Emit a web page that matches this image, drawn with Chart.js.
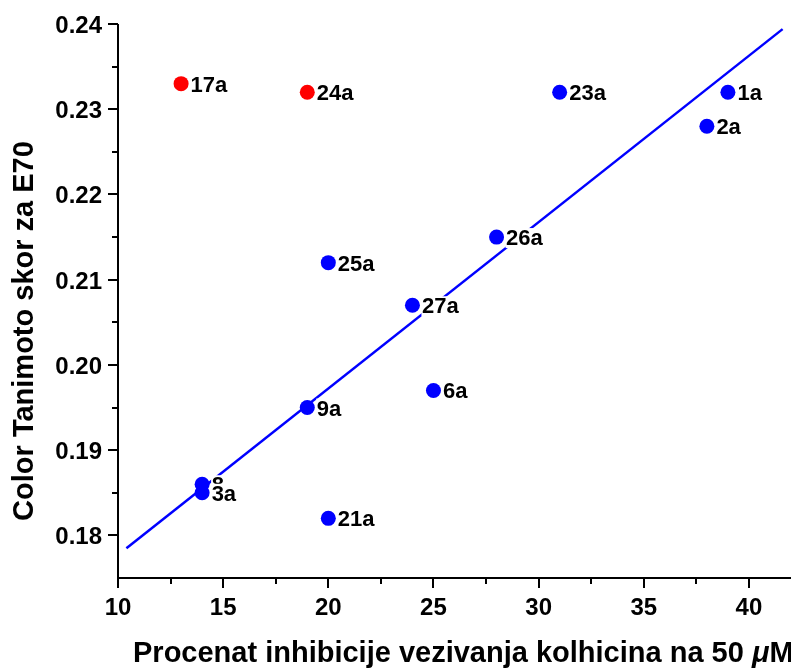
<!DOCTYPE html>
<html>
<head>
<meta charset="utf-8">
<script src="https://cdn.jsdelivr.net/npm/chart.js@4.4.1/dist/chart.umd.min.js"></script>
<style>
body { margin: 0; background: #fff; }
#wrap { width: 791px; height: 670px; }
</style>
</head>
<body>
<div id="wrap"><canvas id="chart" width="791" height="670"></canvas></div>
<script>
// podaci
var names = ['17a', '24a', '23a', '1a', '2a', '26a', '25a', '27a', '6a', '9a', '8', '3a', '21a'];
var inhibition = [13, 19, 31, 39, 38, 28, 20, 24, 25, 19, 14, 14, 20];
var tanimoto = [0.233, 0.232, 0.232, 0.232, 0.228, 0.215, 0.212, 0.207, 0.197, 0.195, 0.186, 0.185, 0.182];
var outliers = ['17a', '24a'];
var fitX = [10.4, 41.6];
var fitY = [0.1785, 0.2394];
var xTicks = [10, 15, 20, 25, 30, 35, 40];
var xMinor = [12.5, 17.5, 22.5, 27.5, 32.5, 37.5];
var yTicks = [0.18, 0.19, 0.20, 0.21, 0.22, 0.23, 0.24];
var yMinor = [0.185, 0.195, 0.205, 0.215, 0.225, 0.235];

var FONT = '"Liberation Sans", Arial, sans-serif';

var points = names.map(function (n, i) { return {x: inhibition[i], y: tanimoto[i]}; });
var colors = names.map(function (n) { return outliers.indexOf(n) >= 0 ? '#ff0000' : '#0000ff'; });
var fitLine = fitX.map(function (x, i) { return {x: x, y: fitY[i]}; });

// crta ose kao u Originu
var axesPlugin = {
    id: 'axes',
    afterDraw: function (chart) {
        var ctx = chart.ctx;
        var xs = chart.scales.x, ys = chart.scales.y;
        var left = xs.getPixelForValue(xs.min), right = xs.getPixelForValue(xs.max);
        var top = ys.getPixelForValue(ys.max), bottom = ys.getPixelForValue(ys.min);
        ctx.save();
        ctx.strokeStyle = '#000';
        ctx.fillStyle = '#000';
        ctx.lineWidth = 2;
        ctx.beginPath();
        ctx.moveTo(left, top);
        ctx.lineTo(left, bottom);
        ctx.lineTo(right, bottom);
        ctx.stroke();

        ctx.beginPath();
        xTicks.forEach(function (v) {
            var p = Math.round(xs.getPixelForValue(v));
            ctx.moveTo(p, bottom); ctx.lineTo(p, bottom + 10);
        });
        xMinor.forEach(function (v) {
            var p = Math.round(xs.getPixelForValue(v));
            ctx.moveTo(p, bottom); ctx.lineTo(p, bottom + 6);
        });
        yTicks.forEach(function (v) {
            var p = Math.round(ys.getPixelForValue(v));
            ctx.moveTo(left, p); ctx.lineTo(left - 10, p);
        });
        yMinor.forEach(function (v) {
            var p = Math.round(ys.getPixelForValue(v));
            ctx.moveTo(left, p); ctx.lineTo(left - 6, p);
        });
        ctx.stroke();

        ctx.font = 'bold 24px ' + FONT;
        ctx.textAlign = 'center';
        ctx.textBaseline = 'alphabetic';
        xTicks.forEach(function (v) {
            ctx.fillText(String(v), xs.getPixelForValue(v), bottom + 37);
        });
        ctx.textAlign = 'right';
        yTicks.forEach(function (v) {
            ctx.fillText(v.toFixed(2), left - 16, ys.getPixelForValue(v) + 9);
        });

        // naslovi osa
        ctx.font = 'bold 29px ' + FONT;
        ctx.textAlign = 'left';
        var t1 = 'Procenat inhibicije vezivanja kolhicina na 50 ';
        var tx = 133, ty = 662;
        ctx.fillText(t1, tx, ty);
        tx += ctx.measureText(t1).width;
        ctx.font = 'italic bold 29px ' + FONT;
        ctx.fillText('\u03bc', tx, ty);
        tx += ctx.measureText('\u03bc').width;
        ctx.font = 'bold 29px ' + FONT;
        ctx.fillText('M', tx, ty);

        ctx.translate(33, 331);
        ctx.rotate(-Math.PI / 2);
        ctx.textAlign = 'center';
        ctx.fillText('Color Tanimoto skor za E70', 0, 0);
        ctx.restore();
    }
};

// oznake jedinjenja sa belom pozadinom
var labelPlugin = {
    id: 'pointLabels',
    afterDatasetsDraw: function (chart) {
        var ctx = chart.ctx;
        var meta = chart.getDatasetMeta(0);
        ctx.save();
        ctx.font = 'bold 22px ' + FONT;
        ctx.textAlign = 'left';
        ctx.textBaseline = 'alphabetic';
        meta.data.forEach(function (el, i) {
            var w = ctx.measureText(names[i]).width;
            var x = el.x + 9, y = el.y + 8;
            ctx.fillStyle = '#fff';
            ctx.fillRect(x, y - 17, w + 1, 20);
            ctx.fillStyle = '#000';
            ctx.fillText(names[i], x + 0.5, y);
        });
        ctx.restore();
    }
};

new Chart(document.getElementById('chart'), {
    type: 'scatter',
    data: {
        datasets: [{
            data: points,
            backgroundColor: colors,
            borderColor: colors,
            pointRadius: 7.5,
            pointHoverRadius: 7.5,
            borderWidth: 0
        }, {
            type: 'line',
            data: fitLine,
            borderColor: '#0000ff',
            borderWidth: 2.5,
            pointRadius: 0,
            fill: false
        }]
    },
    options: {
        responsive: false,
        animation: false,
        events: [],
        layout: {autoPadding: false, padding: {left: 118, right: 0, top: 24, bottom: 92}},
        plugins: {legend: {display: false}, tooltip: {enabled: false}},
        scales: {
            x: {type: 'linear', min: 10, max: 42, display: false},
            y: {type: 'linear', min: 0.175, max: 0.24, display: false}
        }
    },
    plugins: [axesPlugin, labelPlugin]
});
</script>
</body>
</html>
